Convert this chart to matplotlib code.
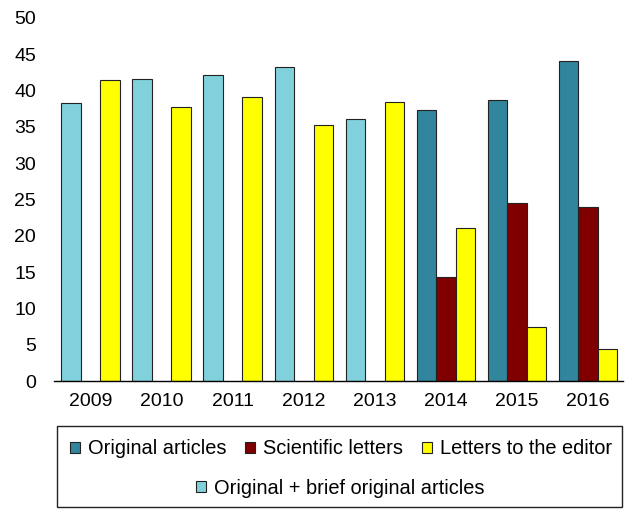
import matplotlib
matplotlib.use("Agg")
import matplotlib.pyplot as plt
import numpy as np
from matplotlib.patches import Rectangle, Patch

years = ["2009", "2010", "2011", "2012", "2013", "2014", "2015", "2016"]
orig_brief = [38.3, 41.6, 42.1, 43.2, 36.1, None, None, None]
original = [None, None, None, None, None, 37.3, 38.7, 44.1]
sci_letters = [None, None, None, None, None, 14.3, 24.5, 24.0]
letters_editor = [41.5, 37.8, 39.1, 35.2, 38.4, 21.1, 7.5, 4.4]

c_orig = "#31859C"
c_sci = "#800000"
c_let = "#FFFF00"
c_brief = "#80D1DC"
edge = "#222222"

plt.rcParams['font.family'] = ['Liberation Sans', 'DejaVu Sans']
fig = plt.figure(figsize=(6.25, 5.09), dpi=100)
W, H = 625, 509
ax = fig.add_axes([54 / W, (H - 381) / H, (623 - 54) / W, (381 - 18) / H])

x = np.arange(len(years))
w = 0.274

def vals(a):
    return [np.nan if v is None else v for v in a]

kw = dict(width=w, edgecolor=edge, linewidth=0.8)
ax.bar(x - w, vals(orig_brief), color=c_brief, **kw)
ax.bar(x - w, vals(original), color=c_orig, **kw)
ax.bar(x, vals(sci_letters), color=c_sci, **kw)
ax.bar(x + w, vals(letters_editor), color=c_let, **kw)

ax.set_xlim(-0.513, 7.49)
ax.set_ylim(0, 50)
ax.set_yticks(range(0, 51, 5))
ax.set_xticks(x)
ax.set_xticklabels(years)
for s in ["top", "right", "left"]:
    ax.spines[s].set_visible(False)
ax.spines["bottom"].set_linewidth(1.0)
ax.tick_params(axis="y", length=0, pad=13, labelsize=14)
ax.tick_params(axis="x", length=0, pad=9, labelsize=14)

# legend box
fig.patches.append(Rectangle((57 / W, (H - 507) / H), 565 / W, 81 / H,
                             transform=fig.transFigure, fill=False,
                             edgecolor="#222222", linewidth=1.0))

def handle(c):
    return Patch(facecolor=c, edgecolor=edge, linewidth=0.8)

lkw = dict(frameon=False, fontsize=14.4, handlelength=0.5, handleheight=0.5,
           handletextpad=0.4, columnspacing=0.95, borderpad=0, borderaxespad=0)
leg1 = fig.legend([handle(c_orig), handle(c_sci), handle(c_let)],
                  ["Original articles", "Scientific letters", "Letters to the editor"],
                  loc="center", bbox_to_anchor=(341 / W, 1 - 449 / H), ncol=3, **lkw)
leg2 = fig.legend([handle(c_brief)], ["Original + brief original articles"],
                  loc="center", bbox_to_anchor=(340 / W, 1 - 488 / H), ncol=1, **lkw)

fig.savefig("out.png", dpi=100)
